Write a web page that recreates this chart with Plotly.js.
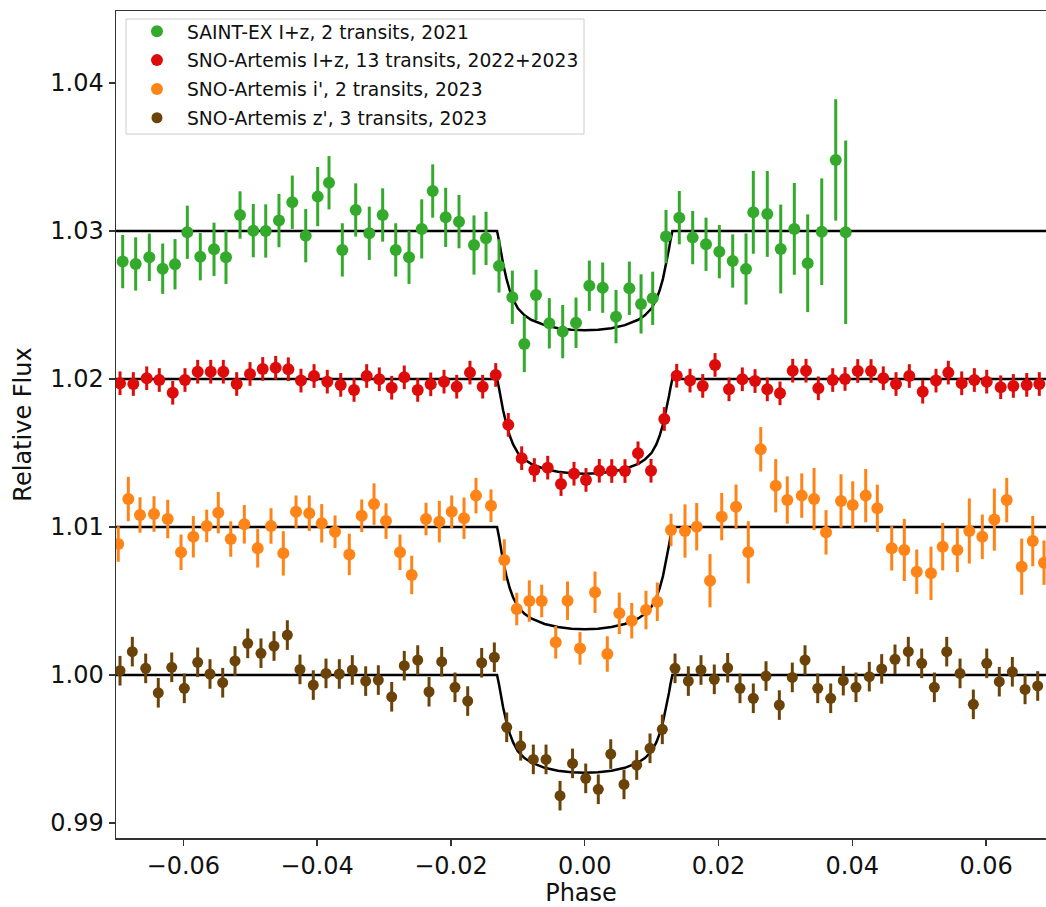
<!DOCTYPE html>
<html>
<head>
<meta charset="utf-8">
<script src="https://cdn.plot.ly/plotly-3.0.1.min.js"></script>
<style>html,body{margin:0;padding:0;background:#fff;}#chart{width:1046px;height:907px;}</style>
</head>
<body>
<div id="chart"></div>
<script>
// ---- Data ----
const seriesNames = [
  "SAINT-EX I+z, 2 transits, 2021",
  "SNO-Artemis I+z, 13 transits, 2022+2023",
  "SNO-Artemis i', 2 transits, 2023",
  "SNO-Artemis z', 3 transits, 2023"
];

const greenX = [-0.06906,-0.06712,-0.06508,-0.06308,-0.06124,-0.0594,-0.05746,-0.05541,-0.05362,-0.05152,-0.04954,-0.04768,-0.0457,-0.04371,-0.0417,-0.03991,-0.03822,-0.03623,-0.03423,-0.0322,-0.0302,-0.02825,-0.02626,-0.02436,-0.02272,-0.02078,-0.01879,-0.01655,-0.01475,-0.01281,-0.01082,-0.00903,-0.00728,-0.00529,-0.00329,-0.0013,0.00069,0.00269,0.00468,0.00667,0.00842,0.01016,0.01215,0.01414,0.01614,0.01813,0.02012,0.02212,0.02411,0.0252,0.02729,0.0293,0.03133,0.03333,0.03543,0.03752,0.03901];
const greenY = [1.02793,1.02777,1.02822,1.02745,1.02775,1.02991,1.02826,1.02876,1.02822,1.03108,1.03002,1.03,1.0307,1.03194,1.02968,1.03232,1.03326,1.02872,1.03142,1.02984,1.03108,1.02872,1.02822,1.03014,1.0327,1.03092,1.03063,1.02905,1.0295,1.02764,1.02552,1.02236,1.02568,1.02376,1.0232,1.0238,1.0263,1.02617,1.02421,1.02613,1.02507,1.02545,1.02962,1.0309,1.02955,1.0291,1.0286,1.02797,1.02743,1.03126,1.03115,1.02878,1.03014,1.02782,1.02995,1.0348,1.02991];
const greenErr = [0.0018,0.0018,0.0016,0.0017,0.0017,0.0018,0.0016,0.0018,0.0018,0.0016,0.0018,0.0018,0.0018,0.0018,0.0018,0.002,0.0018,0.0018,0.0018,0.0018,0.0018,0.0018,0.0018,0.002,0.0018,0.002,0.0018,0.002,0.0018,0.0018,0.0018,0.0019,0.0017,0.0017,0.0018,0.0017,0.0017,0.0017,0.0018,0.0018,0.002,0.0018,0.0018,0.0018,0.0018,0.0018,0.0018,0.0018,0.0024,0.0028,0.0029,0.003,0.0031,0.0033,0.0036,0.0041,0.0062];

const redX = [-0.06946,-0.06747,-0.06547,-0.06359,-0.06158,-0.05975,-0.05785,-0.0559,-0.05402,-0.05202,-0.05003,-0.04813,-0.04619,-0.0443,-0.04241,-0.04046,-0.03848,-0.03647,-0.03448,-0.03259,-0.0307,-0.02885,-0.02697,-0.02496,-0.02302,-0.02103,-0.01913,-0.01715,-0.01525,-0.0133,-0.01142,-0.00942,-0.00753,-0.00553,-0.00354,-0.0016,0.00019,0.00218,0.00404,0.00602,0.00797,0.00991,0.0119,0.01375,0.01574,0.01764,0.01948,0.02157,0.02356,0.02546,0.02729,0.02919,0.03109,0.03308,0.03492,0.03707,0.03891,0.04081,0.0428,0.04463,0.04653,0.04852,0.05052,0.05251,0.05435,0.05635,0.05824,0.06009,0.06218,0.06407,0.06607,0.06795];
const redY = [1.01971,1.01966,1.02005,1.01993,1.01907,1.01993,1.02049,1.02049,1.02049,1.01966,1.02034,1.02068,1.02076,1.02066,1.01989,1.0202,1.01982,1.0196,1.01926,1.0202,1.01998,1.01941,1.02011,1.01926,1.01964,1.01982,1.01948,1.02043,1.01948,1.02027,1.0169,1.01465,1.01385,1.01401,1.0129,1.0136,1.01318,1.0138,1.01378,1.01378,1.01498,1.0138,1.0173,1.02022,1.01989,1.01953,1.02095,1.0193,1.01998,1.01986,1.0193,1.01903,1.02056,1.02056,1.01937,1.01993,1.02,1.02054,1.02054,1.02005,1.01966,1.0202,1.01914,1.01989,1.02043,1.01971,1.01993,1.01982,1.01944,1.01953,1.0196,1.01966];
const redErr = 0.0008;

const orangeX = [-0.06972,-0.06822,-0.06647,-0.06438,-0.06233,-0.06034,-0.0585,-0.0565,-0.05477,-0.05291,-0.05088,-0.04888,-0.04689,-0.04505,-0.04315,-0.04117,-0.03931,-0.03732,-0.03519,-0.03333,-0.03149,-0.0297,-0.02761,-0.02586,-0.02372,-0.02173,-0.01988,-0.01804,-0.01625,-0.01401,-0.01202,-0.01016,-0.00828,-0.00643,-0.00433,-0.00257,-0.0007,0.00154,0.00338,0.00517,0.00703,0.00916,0.01085,0.0129,0.01499,0.01674,0.01873,0.02048,0.02262,0.02445,0.02631,0.02855,0.03028,0.03244,0.03428,0.03607,0.03831,0.04006,0.042,0.04374,0.04589,0.04777,0.04963,0.05176,0.05351,0.0557,0.05749,0.05943,0.06123,0.06308,0.06532,0.06697,0.06865];
const orangeY = [1.00885,1.01189,1.01081,1.01088,1.01054,1.00829,1.00934,1.01007,1.01097,1.00919,1.01018,1.00856,1.01007,1.00822,1.01103,1.01093,1.01025,1.00968,1.00815,1.01076,1.01155,1.0104,1.00829,1.00676,1.01054,1.01036,1.01103,1.01059,1.01212,1.01144,1.00777,1.00446,1.005,1.005,1.00221,1.00502,1.0018,1.00559,1.00142,1.00417,1.00367,1.00439,1.00495,1.0098,1.00973,1.01002,1.00637,1.0107,1.01137,1.00829,1.01525,1.01279,1.01182,1.01212,1.01189,1.00964,1.01176,1.01149,1.01212,1.01126,1.00856,1.00845,1.00698,1.00687,1.00867,1.00845,1.00973,1.00934,1.0105,1.01182,1.00732,1.00905,1.00759];
const orangeErr = [0.0012,0.0015,0.0012,0.0012,0.0013,0.0012,0.0014,0.0011,0.0014,0.0012,0.0013,0.0013,0.0012,0.0015,0.0011,0.0012,0.0013,0.0011,0.0014,0.0011,0.0014,0.0012,0.0012,0.0013,0.0011,0.0014,0.0011,0.0014,0.0012,0.0011,0.0014,0.0011,0.0014,0.0011,0.0011,0.0013,0.0011,0.0014,0.0012,0.0014,0.0012,0.0013,0.0013,0.0011,0.0018,0.0016,0.0018,0.0016,0.0015,0.0021,0.0015,0.0018,0.0016,0.0015,0.0021,0.0015,0.0018,0.0016,0.0018,0.0016,0.0015,0.0021,0.0015,0.0018,0.0016,0.0015,0.0022,0.0015,0.0021,0.0015,0.0019,0.0017,0.0015];

const brownX = [-0.06946,-0.06762,-0.06562,-0.06374,-0.06173,-0.05985,-0.05785,-0.05601,-0.05411,-0.05227,-0.05037,-0.04839,-0.04644,-0.04445,-0.04256,-0.04057,-0.03867,-0.03668,-0.03474,-0.03274,-0.03085,-0.02885,-0.02697,-0.02496,-0.02327,-0.02138,-0.01939,-0.01749,-0.0154,-0.01351,-0.01166,-0.00957,-0.00768,-0.00578,-0.00369,-0.00182,0.00015,0.00203,0.00389,0.00587,0.00777,0.00976,0.0116,0.0135,0.01549,0.01738,0.01937,0.02137,0.02321,0.0252,0.0271,0.02909,0.03103,0.03293,0.03483,0.03677,0.03865,0.04055,0.04254,0.04439,0.04638,0.04837,0.05037,0.05226,0.05411,0.0561,0.05809,0.06009,0.06197,0.06392,0.06582,0.06771];
const brownY = [1.00029,1.00158,1.00045,0.9988,1.00052,0.9991,1.00086,1.00007,0.99948,1.00095,1.00214,1.00147,1.00196,1.0027,1.00038,0.99932,1.00011,1.00007,1.00034,0.99959,0.99966,0.99853,1.00063,1.00101,0.99887,1.0009,0.99917,0.99824,1.00083,1.0012,0.99647,0.99522,0.9943,0.9943,0.99185,0.99403,0.99302,0.99228,0.99466,0.99261,0.99392,0.99505,0.99633,1.00045,0.99959,1.00034,0.99971,1.00049,0.9991,0.99843,0.99993,0.99797,0.99984,1.00101,0.9991,0.99843,0.99962,0.99917,0.99989,1.00041,1.00106,1.00158,1.00079,0.99917,1.00158,1.00011,0.99802,1.00079,0.99955,1.00022,0.99903,0.99926];
const brownErr = 0.001;

// Fitted transit models (black curves)
const modelX = [-0.0701,-0.0131,-0.0128,-0.0126,-0.0122,-0.0117,-0.0112,-0.0107,-0.0100,-0.0090,-0.0080,-0.0060,-0.0040,-0.0020,0,0.0020,0.0040,0.0060,0.0080,0.0090,0.0100,0.0107,0.0112,0.0117,0.0122,0.0126,0.0128,0.0131,0.0701];
const greenModel = [1.03,1.03,1.02933,1.02879,1.02779,1.02678,1.02598,1.02538,1.02477,1.0243,1.024,1.02364,1.02343,1.02333,1.0233,1.02333,1.02343,1.02364,1.024,1.0243,1.02477,1.02538,1.02598,1.02678,1.02779,1.02879,1.02933,1.03,1.03];
const redModel = [1.02,1.02,1.01936,1.01885,1.01789,1.01693,1.01616,1.01558,1.01501,1.01456,1.01427,1.01392,1.01373,1.01363,1.0136,1.01363,1.01373,1.01392,1.01427,1.01456,1.01501,1.01558,1.01616,1.01693,1.01789,1.01885,1.01936,1.02,1.02];
const orangeModel = [1.01,1.01,1.00931,1.00876,1.00772,1.00669,1.00586,1.00524,1.00462,1.00414,1.00382,1.00345,1.00324,1.00313,1.0031,1.00313,1.00324,1.00345,1.00382,1.00414,1.00462,1.00524,1.00586,1.00669,1.00772,1.00876,1.00931,1.01,1.01];
const brownModel = [1.0,1.0,0.99934,0.99881,0.99782,0.99683,0.99604,0.99545,0.99485,0.99439,0.99409,0.99373,0.99353,0.99343,0.9934,0.99343,0.99353,0.99373,0.99409,0.99439,0.99485,0.99545,0.99604,0.99683,0.99782,0.99881,0.99934,1.0,1.0];

const xTicks = [-0.06,-0.04,-0.02,0.00,0.02,0.04,0.06];
const yTicks = [0.99,1.00,1.01,1.02,1.03,1.04];

// ---- Styles ----
const colors = ['#34aa2c','#de0b0b','#ff8418','#6b4309'];
const font = 'DejaVu Sans, sans-serif';

function modelTrace(y){
  return {x: modelX, y: y, mode:'lines', line:{color:'#000', width:2.5}, showlegend:false, hoverinfo:'skip'};
}
function dataTrace(x, y, err, i, size){
  const ey = Array.isArray(err) ? {type:'data', array: err, visible:true} : {type:'constant', value: err, visible:true};
  ey.color = colors[i]; ey.thickness = 3; ey.width = 0;
  return {x:x, y:y, mode:'markers', name: seriesNames[i], legendgroup:'g'+i,
    marker:{color:colors[i], size:size}, error_y: ey};
}

const traces = [
  modelTrace(greenModel), modelTrace(redModel), modelTrace(orangeModel), modelTrace(brownModel),
  dataTrace(greenX, greenY, greenErr, 0, 12),
  dataTrace(redX, redY, redErr, 1, 12),
  dataTrace(orangeX, orangeY, orangeErr, 2, 12),
  dataTrace(brownX, brownY, brownErr, 3, 11)
];

const layout = {
  width:1046, height:907,
  margin:{l:116, r:0, t:11, b:69},
  paper_bgcolor:'#fff', plot_bgcolor:'#fff',
  font:{family:font, color:'#111', size:24},
  showlegend:true,
  legend:{x:0.0118, y:0.998, xanchor:'left', yanchor:'top',
    bgcolor:'rgba(0,0,0,0)', bordercolor:'rgba(0,0,0,0)', borderwidth:0,
    font:{family:font, size:18.7, color:'#111'}, traceorder:'grouped', tracegroupgap:1.5, itemwidth:50},
  shapes:[{type:'rect', xref:'paper', yref:'paper',
    x0:(126-116)/930, x1:(584-116)/930, y0:(838-134)/827, y1:(838-19)/827,
    line:{color:'#cccccc', width:1}, fillcolor:'#ffffff', layer:'above'}],
  xaxis:{range:[-0.07006,0.06895], tickvals:xTicks, tickformat:'.2f',
    ticks:'outside', ticklen:6, tickwidth:1.3, tickcolor:'#333',
    showline:true, linecolor:'#333', linewidth:1.5, mirror:true,
    showgrid:false, zeroline:false,
    title:{text:'Phase', font:{family:font, size:24}, standoff:8}},
  yaxis:{range:[0.98899,1.04486], tickvals:yTicks, tickformat:'.2f',
    ticks:'outside', ticklen:6, tickwidth:1.3, tickcolor:'#333',
    showline:true, linecolor:'#333', linewidth:1.5, mirror:false,
    showgrid:false, zeroline:false,
    title:{text:'Relative Flux', font:{family:font, size:24}, standoff:12}}
};

Plotly.newPlot('chart', traces, layout, {displayModeBar:false, staticPlot:true});
</script>
</body>
</html>
